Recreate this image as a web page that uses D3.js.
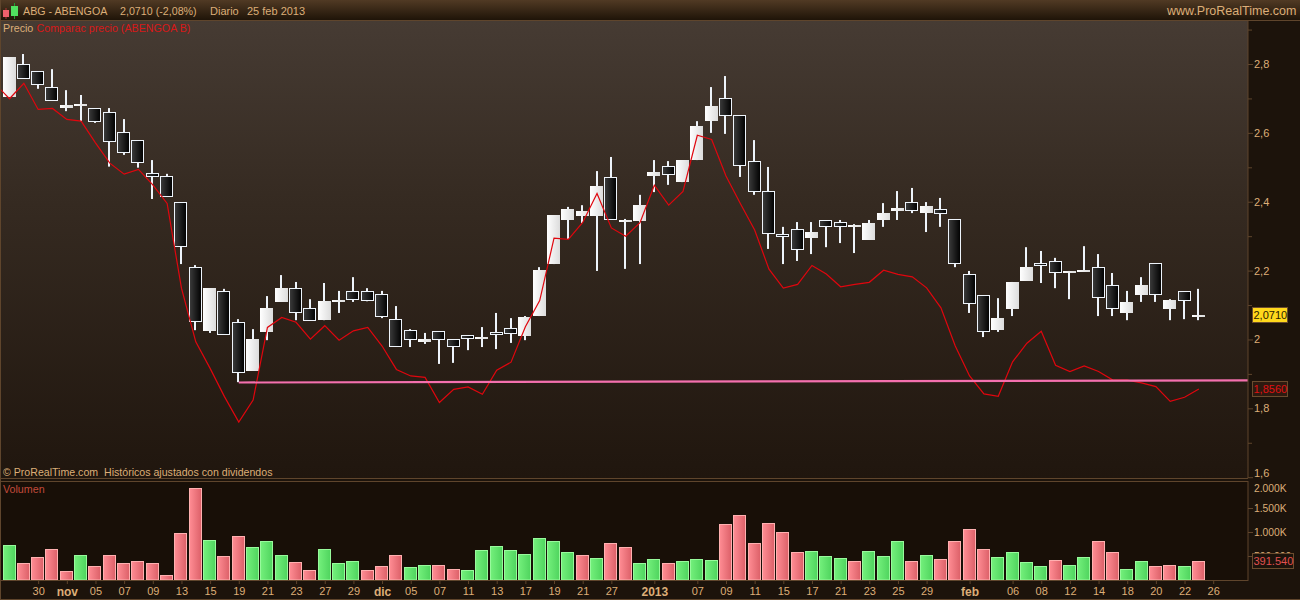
<!DOCTYPE html>
<html>
<head>
<meta charset="utf-8">
<script src="https://cdn.jsdelivr.net/npm/d3@7"></script>
<style>
    html, body { margin: 0; padding: 0; background: #1c130b; }
    svg { display: block; }
    text { font-family: "Liberation Sans", Arial, sans-serif; }
</style>
</head>
<body>
<svg id="drawing" width="1300" height="600"></svg>
<script>
const openP = [2.704,2.799,2.779,2.732,2.672,2.678,2.671,2.660,2.602,2.578,2.483,2.474,2.398,2.210,2.025,2.140,2.050,1.909,2.022,2.110,2.149,2.090,2.056,2.109,2.140,2.140,2.131,2.058,2.027,1.993,2.024,2.000,2.012,2.001,2.021,2.032,2.010,2.068,2.219,2.347,2.359,2.359,2.471,2.341,2.344,2.475,2.503,2.457,2.521,2.634,2.700,2.651,2.517,2.430,2.306,2.320,2.295,2.346,2.340,2.327,2.289,2.347,2.373,2.398,2.367,2.378,2.349,2.189,2.128,2.027,2.088,2.170,2.221,2.227,2.193,2.196,2.210,2.157,2.077,2.129,2.221,2.088,2.140,2.068]
const highP = [2.820,2.829,2.779,2.785,2.724,2.710,2.671,2.672,2.640,2.578,2.521,2.481,2.398,2.216,2.149,2.147,2.059,2.030,2.126,2.187,2.167,2.117,2.164,2.141,2.181,2.149,2.141,2.097,2.030,2.019,2.024,2.000,2.012,2.036,2.077,2.062,2.068,2.210,2.361,2.385,2.390,2.489,2.530,2.350,2.420,2.521,2.518,2.521,2.634,2.733,2.765,2.651,2.579,2.501,2.327,2.341,2.341,2.346,2.347,2.335,2.347,2.396,2.431,2.440,2.399,2.411,2.349,2.199,2.128,2.120,2.167,2.268,2.257,2.237,2.199,2.271,2.248,2.193,2.141,2.181,2.221,2.117,2.140,2.147]
const lowP = [2.704,2.757,2.728,2.693,2.663,2.634,2.629,2.502,2.536,2.499,2.408,2.415,2.219,2.027,2.019,2.014,1.876,1.909,1.998,2.110,2.056,2.054,2.056,2.077,2.109,2.111,2.062,1.979,1.978,1.987,1.929,1.932,1.969,1.978,1.972,1.990,1.998,2.068,2.219,2.292,2.338,2.199,2.348,2.205,2.219,2.428,2.449,2.457,2.521,2.600,2.597,2.472,2.420,2.263,2.219,2.228,2.248,2.268,2.280,2.251,2.289,2.327,2.347,2.367,2.312,2.327,2.210,2.077,2.007,2.022,2.068,2.170,2.164,2.149,2.117,2.196,2.068,2.068,2.056,2.109,2.109,2.056,2.059,2.056]
const closeP = [2.820,2.757,2.740,2.693,2.681,2.684,2.632,2.574,2.542,2.513,2.471,2.415,2.269,2.052,2.149,2.014,1.903,2.000,2.090,2.149,2.078,2.054,2.111,2.115,2.115,2.111,2.066,1.979,1.999,2.001,1.999,1.979,2.002,2.007,2.014,2.017,2.065,2.202,2.361,2.379,2.373,2.446,2.348,2.347,2.390,2.486,2.478,2.521,2.620,2.678,2.650,2.505,2.429,2.307,2.298,2.261,2.312,2.327,2.327,2.332,2.338,2.367,2.382,2.374,2.388,2.365,2.220,2.104,2.022,2.062,2.167,2.210,2.214,2.194,2.199,2.202,2.121,2.089,2.109,2.158,2.130,2.115,2.113,2.071]

// compare series starts one session before the first visible candle
const compareP = [2.742,2.699,2.744,2.668,2.671,2.639,2.634,2.571,2.512,2.480,2.494,2.449,2.395,2.149,1.993,1.916,1.834,1.760,1.824,2.035,2.064,2.050,2.001,2.040,1.998,2.025,2.035,1.981,1.913,1.894,1.890,1.817,1.855,1.862,1.841,1.911,1.934,2.037,2.113,2.294,2.291,2.340,2.424,2.324,2.300,2.339,2.448,2.390,2.430,2.593,2.581,2.475,2.395,2.318,2.204,2.149,2.160,2.215,2.190,2.153,2.160,2.166,2.201,2.189,2.182,2.150,2.092,1.981,1.894,1.842,1.835,1.935,1.989,2.024,1.925,1.907,1.923,1.907,1.882,1.882,1.874,1.863,1.820,1.832,1.856]

const volume = [738,345,469,655,179,511,283,531,345,386,345,97,987,1918,842,490,925,697,821,531,366,200,655,345,386,200,283,511,262,304,304,221,200,635,718,635,552,883,821,573,531,449,780,697,345,428,345,386,428,407,1173,1359,780,1194,1007,593,614,490,449,386,614,490,821,386,511,428,821,1070,655,469,593,366,283,407,304,469,821,573,221,386,283,304,283,392]
const volumeUp = [1,0,0,0,0,1,0,0,0,0,0,0,0,0,1,0,0,1,1,1,0,0,1,1,1,0,0,0,1,1,0,0,1,1,1,1,1,1,1,1,0,1,0,0,1,1,0,1,1,1,0,0,0,0,0,0,1,1,1,0,1,1,1,0,1,0,0,0,0,1,1,1,1,0,1,1,0,0,1,1,0,0,1,0]

const supportIdx = [16, 86.43]
const supportP = [1.875, 1.881]

const xTickIdx = [2,4,6,8,10,12,14,16,18,20,22,24,26,28,30,32,34,36,38,40,42,45,48,50,52,54,56,58,60,62,64,67,70,72,74,76,78,80,82,84]
const xTickLabels = ["30","nov","05","07","09","13","15","19","21","23","27","29","dic","05","07","11","13","17","19","21","27","2013","07","09","11","15","17","21","23","25","29","feb","06","08","12","14","18","20","22","26"]
const monthLabels = ["nov","dic","2013","feb"]

const priceTicks = [2.8,2.6,2.4,2.2,2,1.8,1.6]
const priceMinorTicks = [2.9,2.7,2.5,2.3,2.1,1.9,1.7]
const volumeTicks = [2000,1500,1000,500]
const volumeTickLabels = ["2.000K","1.500K","1.000K","500.000"]

const tan = "#dcae78"
const frame = "#5f452c"

const svg = d3.select("#drawing")

const x = d3.scaleLinear().domain([0, 84]).range([9.5, 1213.2])
const y = d3.scaleLinear().domain([2.8, 1.6]).range([64, 477.2])
const yVol = d3.scaleLinear().domain([0, 2000]).range([580, 484])

function px(i) {
    return Math.floor(x(i))
}

const defs = svg.append("defs")

function gradient(id, x2, y2, stops) {
    const g = defs.append("linearGradient").attr("id", id)
        .attr("x1", 0).attr("y1", 0).attr("x2", x2).attr("y2", y2)
    stops.forEach(function (s) {
        g.append("stop").attr("offset", s[0]).attr("stop-color", s[1])
    })
}
gradient("plotBg", 0, 1, [[0, "#463b33"], [0.4, "#352a21"], [1, "#20160e"]])
gradient("headBg", 0, 1, [[0, "#513a24"], [1, "#1f1408"]])
gradient("candleDown", 1, 0, [[0, "#3c3c3c"], [1, "#000000"]])
gradient("candleUp", 1, 0, [[0, "#ffffff"], [1, "#dcdcdc"]])
gradient("volUp", 1, 0, [[0, "#74f07c"], [1, "#4fd45e"]])
gradient("volDown", 1, 0, [[0, "#ff8d94"], [1, "#dc6068"]])

defs.append("clipPath").attr("id", "plotClip").append("rect")
    .attr("x", 1).attr("y", 21).attr("width", 1247).attr("height", 457)

// backgrounds
svg.append("rect").attr("width", 1300).attr("height", 600).attr("fill", "#1c130b")
svg.append("rect").attr("x", 1).attr("y", 21).attr("width", 1247).attr("height", 457).attr("fill", "url(#plotBg)")
svg.append("rect").attr("x", 1).attr("y", 482).attr("width", 1247).attr("height", 98).attr("fill", "#180f07")
svg.append("rect").attr("width", 1300).attr("height", 20).attr("fill", "url(#headBg)")

// price panel
const price = svg.append("g").attr("clip-path", "url(#plotClip)")

const candles = price.selectAll("g.candle")
    .data(openP.map(function (d, i) { return i }))
    .join("g")
    .attr("class", "candle")

candles.append("rect")
    .attr("x", i => px(i) - 1)
    .attr("width", 2)
    .attr("y", i => y(highP[i]))
    .attr("height", i => y(lowP[i]) - y(highP[i]))
    .attr("fill", "#eef4fb")

candles.each(function (i) {
    const up = closeP[i] >= openP[i]
    const top = Math.round(y(Math.max(openP[i], closeP[i])))
    const bottom = Math.round(y(Math.min(openP[i], closeP[i])))
    const left = Math.floor(x(i) - 6.5)
    if (up) {
        d3.select(this).append("rect")
            .attr("x", left).attr("y", top)
            .attr("width", 13).attr("height", Math.max(bottom - top, 2))
            .attr("fill", "url(#candleUp)")
    } else {
        d3.select(this).append("rect")
            .attr("x", left + 0.5).attr("y", top + 0.5)
            .attr("width", 12).attr("height", Math.max(bottom - top - 1, 1))
            .attr("fill", "url(#candleDown)")
            .attr("stroke", "#eef4fb")
            .attr("stroke-width", 1)
    }
})

const compareLine = d3.line()
    .x(function (d, i) { return x(i - 1) })
    .y(function (d) { return y(d) })

price.append("path")
    .attr("d", compareLine(compareP))
    .attr("fill", "none")
    .attr("stroke", "#e0060e")
    .attr("stroke-width", 1.2)

price.append("line")
    .attr("x1", x(supportIdx[0])).attr("y1", y(supportP[0]))
    .attr("x2", x(supportIdx[1])).attr("y2", y(supportP[1]))
    .attr("stroke", "#f470ae")
    .attr("stroke-width", 2.2)

// volume panel
svg.append("g").selectAll("rect")
    .data(volume)
    .join("rect")
    .attr("x", (d, i) => Math.floor(x(i) - 6.5) + 0.5)
    .attr("y", d => Math.round(yVol(d)) + 0.5)
    .attr("width", 12)
    .attr("height", d => 580 - Math.round(yVol(d)) - 0.5)
    .attr("fill", (d, i) => volumeUp[i] ? "url(#volUp)" : "url(#volDown)")
    .attr("stroke", (d, i) => volumeUp[i] ? "#98fa9c" : "#ffb0b0")
    .attr("stroke-width", 1)

// frame lines
const frameLines = [[0, 20.5, 1300, 20.5], [0, 478.5, 1248, 478.5], [0, 481.5, 1248, 481.5], [0, 580.5, 1248, 580.5],
    [0, 599.5, 1300, 599.5], [0.5, 0, 0.5, 600], [1248, 21, 1248, 478], [1248, 481, 1248, 581]]
svg.append("g").selectAll("line")
    .data(frameLines)
    .join("line")
    .attr("x1", d => d[0]).attr("y1", d => d[1])
    .attr("x2", d => d[2]).attr("y2", d => d[3])
    .attr("stroke", frame)
    .attr("stroke-width", 1)

// axes
function styleAxis(g) {
    g.select(".domain").remove()
    g.selectAll(".tick line").attr("stroke", frame)
    g.selectAll(".tick text").attr("fill", tan).attr("font-size", 11)
}

svg.append("g")
    .attr("transform", "translate(1248,0)")
    .call(d3.axisRight(y).tickValues(priceMinorTicks).tickSize(4).tickFormat(""))
    .call(styleAxis)

svg.append("g")
    .attr("transform", "translate(1248,0)")
    .call(d3.axisRight(y).tickValues(priceTicks).tickSize(5).tickPadding(1)
        .tickFormat(d => String(d).replace(".", ",")))
    .call(styleAxis)
    .call(g => g.selectAll(".tick text").filter(d => d === 1.6).attr("dy", "-0.1em"))

svg.append("g")
    .attr("transform", "translate(1248,0)")
    .call(d3.axisRight(yVol).tickValues(volumeTicks).tickSize(5).tickPadding(1)
        .tickFormat((d, i) => volumeTickLabels[i]))
    .call(styleAxis)
    .call(g => g.selectAll(".tick text").attr("font-size", 10.3))
    .call(g => g.selectAll(".tick text").filter(d => d === 2000).attr("dy", "0.7em"))
    .call(g => g.selectAll(".tick line").filter(d => d === 2000).remove())

svg.append("g")
    .attr("transform", "translate(0,580)")
    .call(d3.axisBottom(x).tickValues(xTickIdx).tickSize(4).tickPadding(3)
        .tickFormat((d, i) => xTickLabels[i]))
    .call(styleAxis)
    .call(g => g.selectAll(".tick text")
        .attr("font-size", (d, i) => monthLabels.includes(xTickLabels[i]) ? 12 : 11)
        .attr("font-weight", (d, i) => monthLabels.includes(xTickLabels[i]) ? "bold" : "normal"))

// last value badges
function badge(top, w, bg, color, label) {
    svg.append("rect")
        .attr("x", 1252.5).attr("y", top + 0.5)
        .attr("width", w).attr("height", 15)
        .attr("fill", bg).attr("stroke", "#6b4c2e").attr("stroke-width", 1)
    svg.append("text")
        .attr("x", 1253.5).attr("y", top + 12)
        .attr("font-size", 11).attr("fill", color)
        .text(label)
}
badge(307, 35, "#ffd81c", "#2a1c00", "2,0710")
badge(381, 35, "#2e1a10", "#e01010", "1,8560")
badge(553, 41, "#1c130b", "#e05050", "391.540")

// header and notes
svg.append("rect").attr("x", 5.5).attr("y", 8).attr("width", 1).attr("height", 11).attr("fill", "#b03030")
svg.append("rect").attr("x", 3).attr("y", 10).attr("width", 6).attr("height", 7).attr("fill", "#f0606c")
svg.append("rect").attr("x", 14).attr("y", 3).attr("width", 1).attr("height", 16).attr("fill", "#20a030")
svg.append("rect").attr("x", 11).attr("y", 6).attr("width", 7).attr("height", 10).attr("fill", "#50e060")

const notes = [
    [23, 15, "ABG - ABENGOA", tan, 10.7],
    [120, 15, "2,0710 (-2,08%)", tan, 10.7],
    [210, 15, "Diario", tan, 11],
    [247, 15, "25 feb 2013", tan, 11],
    [1167, 15, "www.ProRealTime.com", tan, 12.5],
    [3, 32, "Precio", tan, 10.7],
    [36.5, 32, "Comparac precio (ABENGOA B)", "#d81818", 10.7],
    [3, 476, "© ProRealTime.com  Históricos ajustados con dividendos", tan, 10.6],
    [3, 493, "Volumen", "#c04a3a", 10.7]
]
svg.append("g").selectAll("text")
    .data(notes)
    .join("text")
    .attr("x", d => d[0]).attr("y", d => d[1])
    .attr("font-size", d => d[4])
    .attr("fill", d => d[3])
    .attr("xml:space", "preserve")
    .style("white-space", "pre")
    .text(d => d[2])
</script>
</body>
</html>
